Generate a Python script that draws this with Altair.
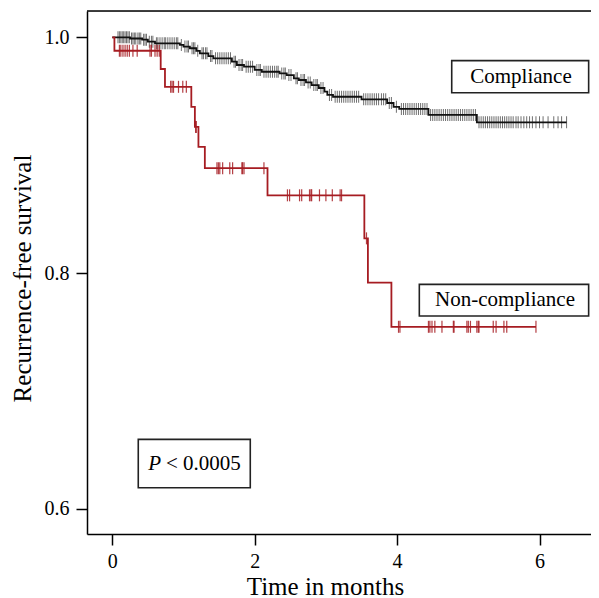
import bisect
import altair as alt
import pandas as pd

# ---- Compliance group (black): step times and survival after each step ----
comp_times = [0.0, 0.25, 0.42, 0.50, 0.60, 0.95, 1.00, 1.09, 1.18, 1.23, 1.35, 1.42,
              1.68, 1.75, 1.85, 2.00, 2.10, 2.35, 2.45, 2.55, 2.62, 2.72, 2.80, 2.90,
              2.98, 3.02, 3.10, 3.50, 3.86, 3.95, 4.03, 4.44, 5.12]
comp_surv = [1.000, 0.999, 0.998, 0.9963, 0.9949, 0.9935, 0.9921, 0.9907, 0.9885, 0.9864,
             0.9841, 0.9822, 0.9793, 0.9765, 0.9751, 0.9723, 0.9708, 0.9694, 0.968, 0.9652,
             0.9638, 0.9617, 0.9595, 0.957, 0.9539, 0.9511, 0.9496, 0.9474, 0.9443, 0.941,
             0.9393, 0.9342, 0.9279]
comp_end = 6.38
comp_censor = [0.08, 0.10, 0.12, 0.14, 0.16, 0.18, 0.20, 0.22, 0.24, 0.27, 0.29, 0.31, 0.33,
               0.36, 0.38, 0.40, 0.44, 0.46, 0.48, 0.52, 0.55, 0.57, 0.62, 0.64, 0.67, 0.70,
               0.73, 0.75, 0.78, 0.81, 0.84, 0.87, 0.90, 0.92, 0.97, 1.02, 1.05, 1.07, 1.12,
               1.14, 1.16, 1.20, 1.26, 1.28, 1.31, 1.33, 1.38, 1.40, 1.45, 1.48, 1.51, 1.54,
               1.57, 1.60, 1.63, 1.66, 1.71, 1.73, 1.78, 1.81, 1.83, 1.88, 1.91, 1.94, 1.97,
               2.03, 2.06, 2.08, 2.13, 2.16, 2.19, 2.22, 2.25, 2.28, 2.31, 2.33, 2.38, 2.41,
               2.43, 2.48, 2.51, 2.58, 2.60, 2.65, 2.68, 2.70, 2.75, 2.78, 2.83, 2.86, 2.88,
               2.93, 2.96, 3.05, 3.08, 3.13, 3.16, 3.19, 3.22, 3.25, 3.28, 3.31, 3.34, 3.37,
               3.40, 3.43, 3.46, 3.53, 3.56, 3.59, 3.62, 3.65, 3.68, 3.71, 3.74, 3.78, 3.81,
               3.84, 3.89, 3.92, 3.99, 4.06, 4.09, 4.12, 4.15, 4.18, 4.21, 4.24, 4.27, 4.30,
               4.33, 4.36, 4.39, 4.42, 4.47, 4.50, 4.53, 4.56, 4.59, 4.62, 4.65, 4.68, 4.71,
               4.74, 4.77, 4.80, 4.83, 4.86, 4.89, 4.92, 4.95, 4.98, 5.01, 5.04, 5.07, 5.10,
               5.15, 5.18, 5.21, 5.24, 5.27, 5.30, 5.33, 5.36, 5.39, 5.42, 5.45, 5.48, 5.51,
               5.54, 5.57, 5.60, 5.63, 5.67, 5.70, 5.74, 5.78, 5.82, 5.86, 5.90, 5.95, 6.00,
               6.05, 6.12, 6.20, 6.26, 6.31, 6.38]

# ---- Non-compliance group (red) ----
nc_times = [0.0, 0.03, 0.68, 0.74, 1.11, 1.16, 1.21, 1.30, 2.18, 3.54, 3.59, 3.92]
nc_surv = [1.0, 0.9886, 0.9731, 0.958, 0.941, 0.924, 0.907, 0.889, 0.866, 0.8295, 0.792, 0.7545]
nc_end = 5.95
nc_censor = [0.10, 0.12, 0.15, 0.18, 0.21, 0.24, 0.29, 0.35, 0.53, 0.55, 0.60, 0.63, 0.66,
             0.82, 0.84, 0.86, 0.93, 0.99, 1.04, 1.17, 1.18, 1.47, 1.49, 1.51, 1.55, 1.65,
             1.69, 1.82, 1.83, 1.85, 2.13, 2.46, 2.49, 2.63, 2.66, 2.77, 2.79, 2.80, 2.91,
             3.00, 3.09, 3.20, 3.22, 3.57, 4.02, 4.04, 4.44, 4.46, 4.49, 4.53, 4.63, 4.79,
             4.80, 4.98, 5.00, 5.03, 5.12, 5.14, 5.15, 5.35, 5.39, 5.50, 5.54, 5.95]

x_ticks = [0, 2, 4, 6]
y_ticks = [0.6, 0.8, 1.0]

BLACK = "#111111"
RED = "#a61c22"
FONT = "Liberation Serif"
W, H = 504, 523


def step_df(times, surv, end):
    t = list(times) + [end]
    s = list(surv) + [surv[-1]]
    return pd.DataFrame({"t": t, "s": s})


def censor_df(cens, times, surv):
    vals = []
    for c in cens:
        i = bisect.bisect_right(times, c) - 1
        vals.append(surv[max(i, 0)])
    return pd.DataFrame({"t": cens, "s": vals})


comp_line_df = step_df(comp_times, comp_surv, comp_end)
nc_line_df = step_df(nc_times, nc_surv, nc_end)
comp_cens_df = censor_df(comp_censor, comp_times, comp_surv)
nc_cens_df = censor_df(nc_censor, nc_times, nc_surv)

# annotation boxes (data coordinates)
boxes = pd.DataFrame({
    "x1": [4.767, 4.312, 0.365],
    "x2": [6.69, 6.69, 1.938],
    "y1": [0.9802, 0.7905, 0.659],
    "y2": [0.9530, 0.7636, 0.618],
})
labels = pd.DataFrame({
    "t": [5.74, 5.515],
    "s": [0.961, 0.772],
    "txt": ["Compliance", "Non-compliance"],
})
pval_p = pd.DataFrame({"t": [0.506], "s": [0.633], "txt": ["P"]})
pval_rest = pd.DataFrame({"t": [0.754], "s": [0.633], "txt": ["< 0.0005"]})

xscale = alt.Scale(domain=[-0.355, 6.723], nice=False, zero=False)
yscale = alt.Scale(domain=[0.5788, 1.0223], nice=False, zero=False)

xaxis = alt.Axis(values=x_ticks, format="d", title="Time in months", grid=False,
                 labelFont=FONT, labelFontSize=20, labelColor="black", labelPadding=6,
                 titleFont=FONT, titleFontSize=25, titleFontWeight="normal", titleColor="black",
                 titleX=238, titleY=60, titleBaseline="alphabetic",
                 tickSize=11, tickWidth=1.5, tickColor="black",
                 domainWidth=1.5, domainColor="black")
yaxis = alt.Axis(values=y_ticks, format=".1f", title="Recurrence-free survival", grid=False,
                 labelFont=FONT, labelFontSize=20, labelColor="black", labelPadding=7,
                 titleFont=FONT, titleFontSize=25, titleFontWeight="normal", titleColor="black",
                 titleX=-57, titleY=267, titleBaseline="alphabetic", titleAngle=-90,
                 tickSize=11, tickWidth=1.5, tickColor="black",
                 domainWidth=1.5, domainColor="black")

X = alt.X("t:Q", scale=xscale, axis=xaxis)
Y = alt.Y("s:Q", scale=yscale, axis=yaxis)

box_layer = alt.Chart(boxes).mark_rect(fill="white", stroke="#222222", strokeWidth=1.6).encode(
    x=alt.X("x1:Q", scale=xscale, axis=xaxis), x2="x2:Q",
    y=alt.Y("y1:Q", scale=yscale, axis=yaxis), y2="y2:Q",
)

comp_ticks = alt.Chart(comp_cens_df).mark_tick(
    orient="vertical", size=12, thickness=1, color=BLACK, opacity=0.6
).encode(x=X, y=Y)
nc_ticks = alt.Chart(nc_cens_df).mark_tick(
    orient="vertical", size=12, thickness=1.2, color=RED, opacity=0.85
).encode(x=X, y=Y)

comp_line = alt.Chart(comp_line_df).mark_line(
    interpolate="step-after", color=BLACK, strokeWidth=1.8
).encode(x=X, y=Y)
nc_line = alt.Chart(nc_line_df).mark_line(
    interpolate="step-after", color=RED, strokeWidth=1.8
).encode(x=X, y=Y)

label_layer = alt.Chart(labels).mark_text(
    font=FONT, fontSize=21, color="black", align="center", baseline="alphabetic"
).encode(x=X, y=Y, text="txt:N")
p_layer = alt.Chart(pval_p).mark_text(
    font=FONT, fontSize=21, fontStyle="italic", color="black", align="left", baseline="alphabetic"
).encode(x=X, y=Y, text="txt:N")
p_rest_layer = alt.Chart(pval_rest).mark_text(
    font=FONT, fontSize=21, color="black", align="left", baseline="alphabetic"
).encode(x=X, y=Y, text="txt:N")

top_border = alt.Chart(pd.DataFrame({"a": [0]})).mark_rule(color="black", strokeWidth=1.5).encode(
    x=alt.value(0), x2=alt.value(W), y=alt.value(0)
)

chart = alt.layer(
    box_layer, comp_ticks, nc_ticks, comp_line, nc_line,
    label_layer, p_layer, p_rest_layer, top_border
).properties(
    width=W, height=H,
    autosize=alt.AutoSizeParams(type="none"),
    padding={"left": 79, "top": 3, "right": 0, "bottom": 64},
).configure_view(stroke=None).configure(background="white")

chart.save("out.html", embed_options={"renderer": "svg", "actions": False})
